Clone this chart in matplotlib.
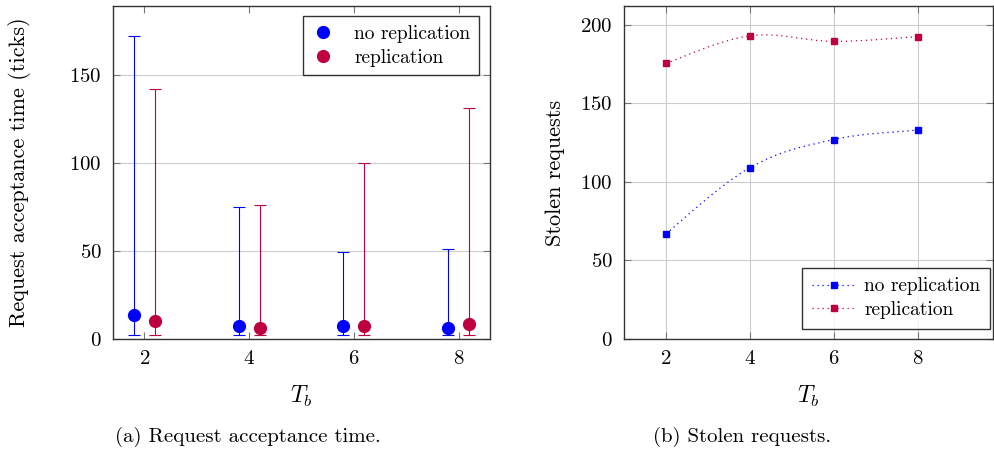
import matplotlib
matplotlib.use("Agg")
import matplotlib.pyplot as plt
from matplotlib.path import Path
from matplotlib.patches import PathPatch
from matplotlib.lines import Line2D
import numpy as np

plt.rcParams['font.family'] = ['cmr10', 'DejaVu Serif']
plt.rcParams['mathtext.fontset'] = 'cm'
plt.rcParams['axes.unicode_minus'] = False
plt.rcParams['axes.formatter.use_mathtext'] = True

# data
tb = [2, 4, 6, 8]
# (a) request acceptance time: mean, min, max
acc_norep = [13.6, 7.4, 7.4, 6.4]
acc_norep_min = [2, 2, 2, 2]
acc_norep_max = [172, 75, 49.5, 51]
acc_rep = [10, 6, 7.4, 8.3]
acc_rep_min = [2, 2, 2, 2]
acc_rep_max = [142, 76, 100, 131]
# (b) stolen requests
stolen_norep = [67, 109, 127, 133]
stolen_rep = [175.5, 193, 189.5, 192.5]

BLUE = '#0000ff'
RED = '#bf0040'
W, H = 995, 454

fig = plt.figure(figsize=(W / 100, H / 100), dpi=100)

def box(l, r, t, b):
    return [l / W, 1 - b / H, (r - l) / W, (b - t) / H]

def style(ax):
    for s in ax.spines.values():
        s.set_color('#333333')
        s.set_linewidth(1.0)
    ax.tick_params(direction='in', top=True, right=True, length=5,
                   width=0.8, color='#777777', labelsize=15, pad=8)

# ---- (a)
ax1 = fig.add_axes(box(113, 490, 6, 339))
xs = np.array(tb)
for off, m, lo, hi, c in [(-0.2, acc_norep, acc_norep_min, acc_norep_max, BLUE),
                          (0.2, acc_rep, acc_rep_min, acc_rep_max, RED)]:
    m = np.array(m)
    yerr = [m - np.array(lo), np.array(hi) - m]
    ax1.errorbar(xs + off, m, yerr=yerr, fmt='o', color=c, ms=8.5,
                 elinewidth=0.8, capsize=4, capthick=0.8, zorder=3)
ax1.set_xlim(1.4, 8.6)
ax1.set_ylim(0, 189)
ax1.set_xticks(tb)
ax1.set_yticks([0, 50, 100, 150])
ax1.yaxis.grid(True, color='#cccccc', lw=0.8)
ax1.set_axisbelow(True)
style(ax1)
ax1.set_ylabel('Request acceptance time (ticks)', fontsize=16)
ax1.yaxis.set_label_coords((31 - 113) / 377, 0.5)
ax1.set_xlabel('$T_b$', fontsize=17)
ax1.xaxis.set_label_coords(0.5, (339 - 384) / 333)
h1 = [Line2D([], [], color=BLUE, ls='none', marker='o', ms=8.5),
      Line2D([], [], color=RED, ls='none', marker='o', ms=8.5)]
leg1 = ax1.legend(h1, ['no replication', 'replication'], loc='upper right',
                  fontsize=14, frameon=True, fancybox=False, edgecolor='black',
                  borderpad=0.45, handlelength=1.2, handletextpad=1.0,
                  labelspacing=0.3, borderaxespad=0,
                  bbox_to_anchor=(1 - 11 / 377, 1 - 10 / 333))
leg1.get_frame().set_linewidth(1.0)

# ---- (b)
ax2 = fig.add_axes(box(624, 993, 6, 339))

def smooth(ax, x, y, c):
    x = np.asarray(x, float)
    y = np.asarray(y, float)
    verts = [(x[0], y[0])]
    codes = [Path.MOVETO]
    k = 0.55 / 3
    for i in range(len(x) - 1):
        xp, yp = (x[i - 1], y[i - 1]) if i > 0 else (x[i], y[i])
        xn, yn = (x[i + 2], y[i + 2]) if i + 2 < len(x) else (x[i + 1], y[i + 1])
        c1 = (x[i] + (x[i + 1] - xp) * k, y[i] + (y[i + 1] - yp) * k)
        c2 = (x[i + 1] - (xn - x[i]) * k, y[i + 1] - (yn - y[i]) * k)
        verts += [c1, c2, (x[i + 1], y[i + 1])]
        codes += [Path.CURVE4] * 3
    ax.add_patch(PathPatch(Path(verts, codes), fill=False, ec=c, lw=0.9,
                           ls=(0, (1, 3)), zorder=2))

for ys, c in [(stolen_norep, BLUE), (stolen_rep, RED)]:
    smooth(ax2, tb, ys, c)
    ax2.plot(tb, ys, 's', color=c, ms=4, zorder=3)
ax2.set_xlim(1, 9.8)
ax2.set_ylim(0, 212)
ax2.set_xticks(tb)
ax2.set_yticks([0, 50, 100, 150, 200])
ax2.grid(True, color='#cccccc', lw=0.8)
ax2.set_axisbelow(True)
style(ax2)
ax2.set_ylabel('Stolen requests', fontsize=16)
ax2.yaxis.set_label_coords((565 - 624) / 369, 0.5)
ax2.set_xlabel('$T_b$', fontsize=17)
ax2.xaxis.set_label_coords(0.5, (339 - 384) / 333)
h2 = [Line2D([], [], color=BLUE, ls=(0, (1, 3)), lw=0.9, marker='s', ms=4),
      Line2D([], [], color=RED, ls=(0, (1, 3)), lw=0.9, marker='s', ms=4)]
leg2 = ax2.legend(h2, ['no replication', 'replication'], loc='lower right',
                  fontsize=14, frameon=True, fancybox=False, edgecolor='black',
                  borderpad=0.5, handlelength=2.3, handletextpad=0.4,
                  labelspacing=0.3, borderaxespad=0,
                  bbox_to_anchor=((990 - 624) / 369, 10 / 333))
leg2.get_frame().set_linewidth(1.0)

fig.text(248 / W, 1 - 437 / H, '(a) Request acceptance time.', ha='center', va='center', fontsize=15)
fig.text(742 / W, 1 - 437 / H, '(b) Stolen requests.', ha='center', va='center', fontsize=15)

fig.savefig('out.png', dpi=100)
